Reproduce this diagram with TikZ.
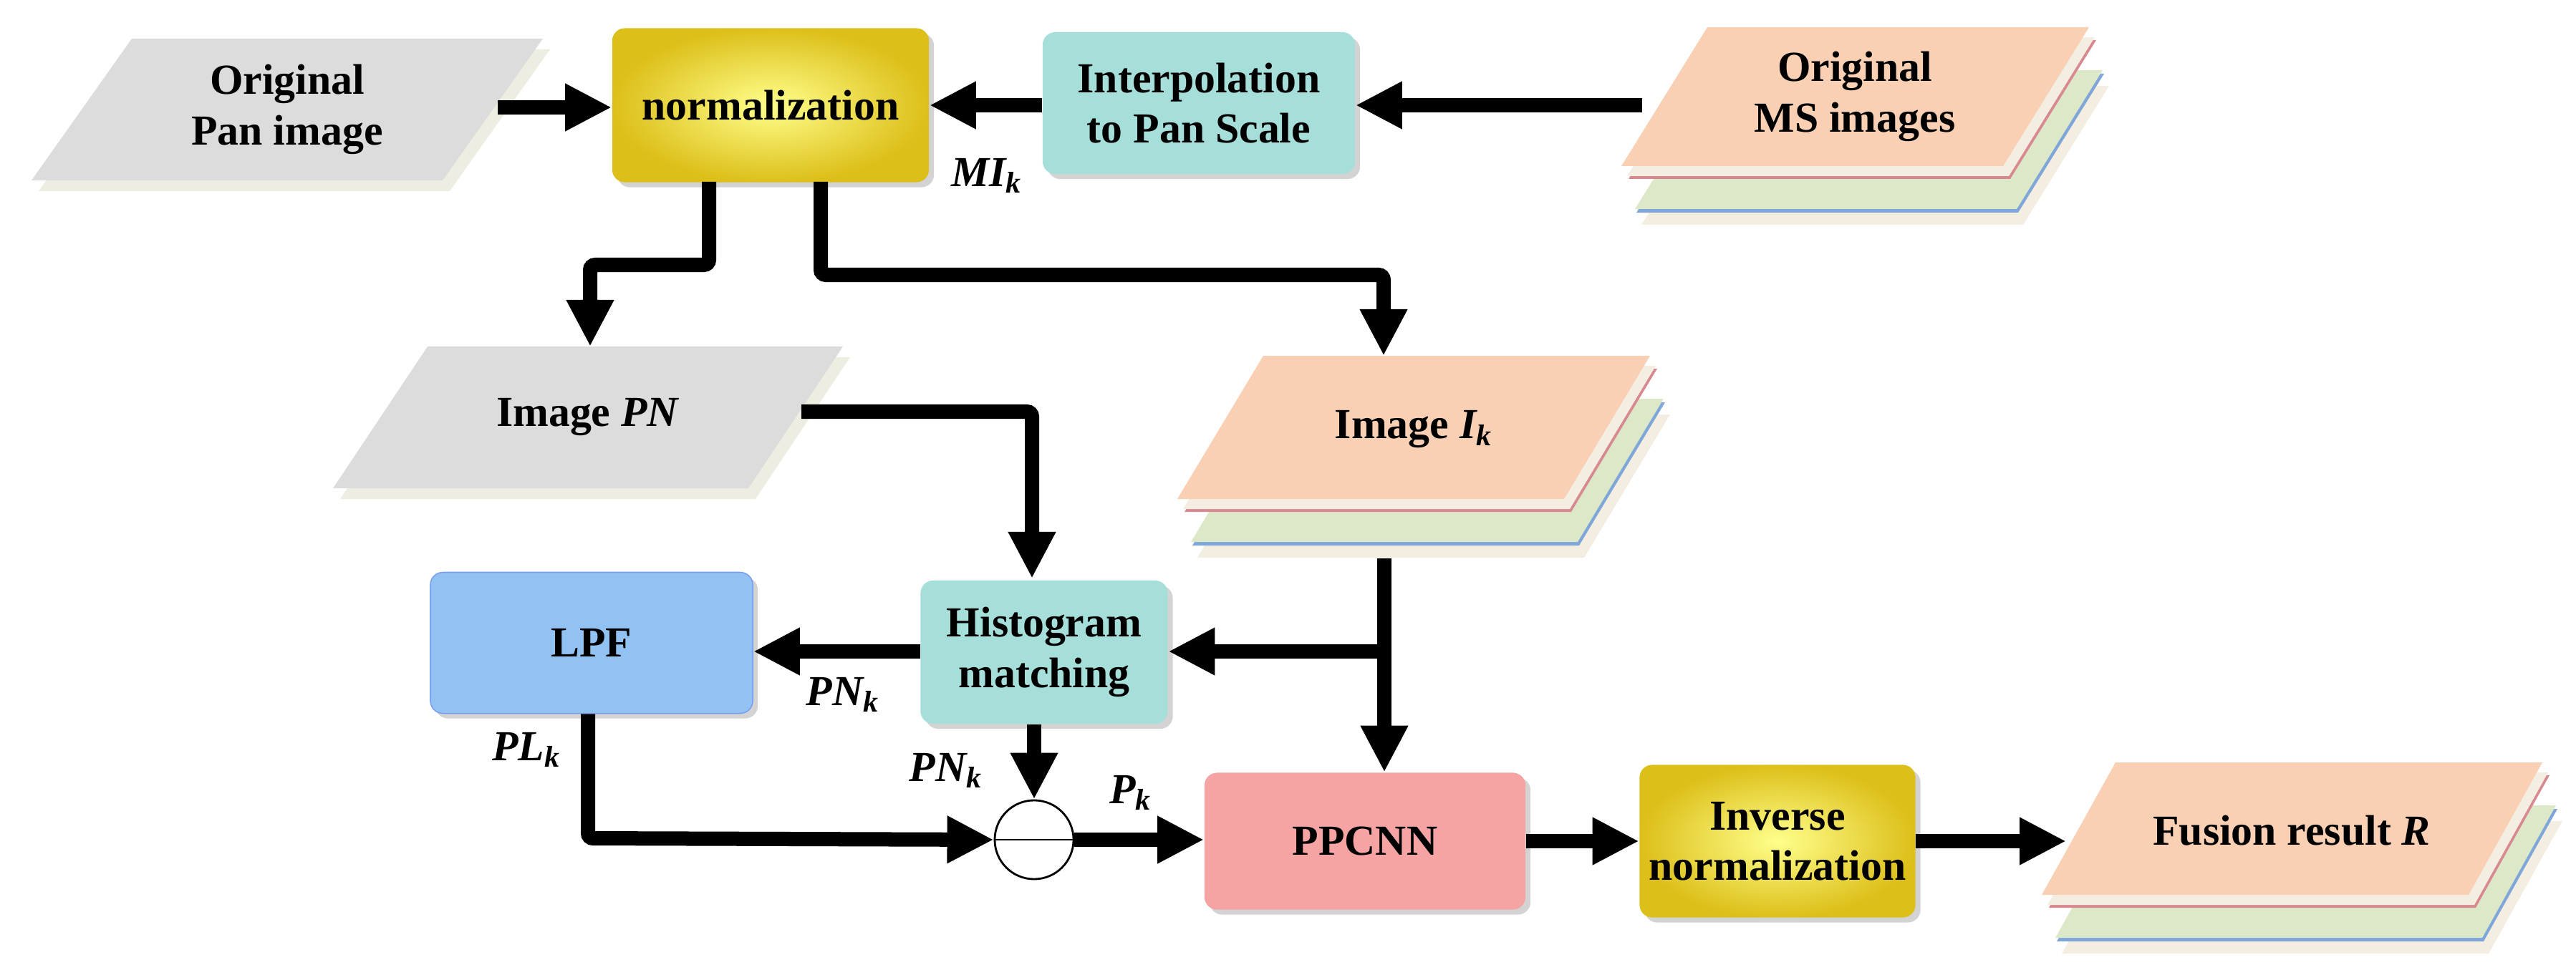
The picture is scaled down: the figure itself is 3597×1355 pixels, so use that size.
\documentclass[tikz,border=0pt]{standalone}
\usepackage{fontspec}
\setmainfont{Liberation Serif}
\usetikzlibrary{arrows.meta,shadows}
\definecolor{pang}{HTML}{DCDCDC}
\definecolor{pansh}{HTML}{EEEDE2}
\definecolor{peach}{HTML}{F9D0B4}
\definecolor{cream}{HTML}{F4EEE2}
\definecolor{greenl}{HTML}{DDE8C8}
\definecolor{pinkl}{HTML}{D7898F}
\definecolor{bluel}{HTML}{7FA6D8}
\definecolor{teal}{HTML}{A6DFDA}
\definecolor{lpfb}{HTML}{92C2F2}
\definecolor{ppc}{HTML}{F5A3A3}
\tikzset{
  txt/.style={font=\fontsize{17}{20}\selectfont\bfseries, align=center},
  lab/.style={font=\fontsize{17}{20}\selectfont\bfseries\itshape},
  box/.style={txt, rounded corners=5pt, inner sep=2pt, drop shadow={opacity=0.35,shadow xshift=2pt,shadow yshift=-2pt}},
  yel/.style={box, inner color=yellow!45!white, outer color=yellow!70!orange!85!black!90},
  arr/.style={line width=0.2cm, -{Triangle[length=0.65cm,width=0.62cm]}, rounded corners=2pt},
  ln/.style={line width=0.2cm, rounded corners=2pt},
}
% parallelogram: tlx, top, w, h, slant, fill
\newcommand{\mypara}[6]{%
  \fill[#6] (#1,#2) -- ({#1+#3},#2) -- ({#1+#3-#5},{#2+#4}) -- ({#1-#5},{#2+#4}) -- cycle;}
\newcommand{\mystack}[5]{%
  \mypara{#1+28}{#2+82}{#3}{#4}{#5}{cream}
  \mypara{#1+21}{#2+65}{#3}{#4}{#5}{bluel}
  \mypara{#1+19}{#2+60}{#3}{#4}{#5}{greenl}
  \mypara{#1+10}{#2+18}{#3}{#4}{#5}{pinkl}
  \mypara{#1+8}{#2+14}{#3}{#4}{#5}{cream}
  \mypara{#1}{#2}{#3}{#4}{#5}{peach}}
\begin{document}
\begin{tikzpicture}[x=0.01cm,y=-0.01cm]
\useasboundingbox (0,0) rectangle (3597,1355);
% gray parallelograms
\mypara{194}{69}{574}{198}{140}{pansh}
\mypara{184}{54}{574}{198}{140}{pang}
\node[txt] (pan) at (401,153) {Original\\Pan image};
\mypara{607}{499}{580}{198}{132}{pansh}
\mypara{597}{484}{580}{198}{132}{pang}
\node[txt] (pn) at (821,583) {Image \textit{PN}};
% stacks
\mystack{2384}{38}{533}{194}{120}
\node[txt] (ms) at (2590,135) {Original\\MS images};
\mystack{1764}{497}{540}{200}{120}
\node[txt] (ik) at (1974,600) {Image \textit{I\textsubscript{k}}};
\mystack{2954}{1065}{596}{185}{103}
\node[txt] (fus) at (3200,1160) {Fusion result \textit{R}};
% boxes
\node[yel, minimum width=4.42cm, minimum height=2.15cm] (norm) at (1076,147) {normalization};
\node[box, fill=teal, minimum width=4.36cm, minimum height=1.98cm] (interp) at (1674,144) {Interpolation\\to Pan Scale};
\node[box, fill=lpfb, draw=lpfb!80!blue, minimum width=4.5cm, minimum height=1.97cm] (lpf) at (826,898) {LPF};
\node[box, fill=teal, minimum width=3.45cm, minimum height=2.0cm] (hist) at (1458,911) {Histogram\\matching};
\node[box, fill=ppc, minimum width=4.48cm, minimum height=1.91cm] (ppcnn) at (1906,1175) {PPCNN};
\node[yel, minimum width=3.85cm, minimum height=2.13cm] (inv) at (2482,1175) {Inverse\\normalization};
\node[draw, circle, line width=0.8pt, minimum size=1.1cm, inner sep=0pt, fill=white] (circ) at (1444,1173) {};
\draw[line width=0.8pt] (circ.west) -- (circ.east);
% coordinates
\coordinate (panOut) at (695,150);
\coordinate (msOut) at (2293,147);
\coordinate (n1) at (990,254);
\coordinate (n2) at (1146,254);
\coordinate (pnTop) at (824,484);
\coordinate (ikTop) at (1932,497);
\coordinate (pnOut) at (1119,575);
\coordinate (ikOut) at (1933,780);
\coordinate (fusIn) at (2885,1175);
% connectors
\draw[arr] (panOut) -- (panOut -| norm.west);
\draw[arr] (interp.west |- norm.east) -- (norm.east);
\draw[arr] (msOut) -- (msOut -| interp.east);
\draw[arr] (n1) -- (990,370) -- (824,370) -- (pnTop);
\draw[arr] (n2) -- (1146,384) -- (1932,384) -- (ikTop);
\draw[arr] (pnOut) -- (1441,575) -- (1441,808);
\draw[arr] (ikOut) -- (ikOut |- ppcnn.north);
\draw[arr] (1933,910) -- (1933,910 -| hist.east);
\draw[arr] (hist.west |- 0,910) -- (lpf.east |- 0,910);
\draw[arr] (hist.south -| circ.north) -- (circ.north);
\draw[arr] (lpf.south -| 821,0) -- (821,1171) -- (circ.west);
\draw[arr] (circ.east) -- (ppcnn.west |- circ.east);
\draw[arr] (ppcnn.east) -- (inv.west);
\draw[arr] (inv.east) -- (fusIn);
% labels
\node[lab] (lmi) at (1378,245) {MI\textsubscript{k}};
\node[lab] (lpn1) at (1177,970) {PN\textsubscript{k}};
\node[lab] (lpn2) at (1321,1076) {PN\textsubscript{k}};
\node[lab] (lpl) at (735,1047) {PL\textsubscript{k}};
\node[lab] (lp) at (1579,1107) {P\textsubscript{k}};
\end{tikzpicture}
\end{document}
